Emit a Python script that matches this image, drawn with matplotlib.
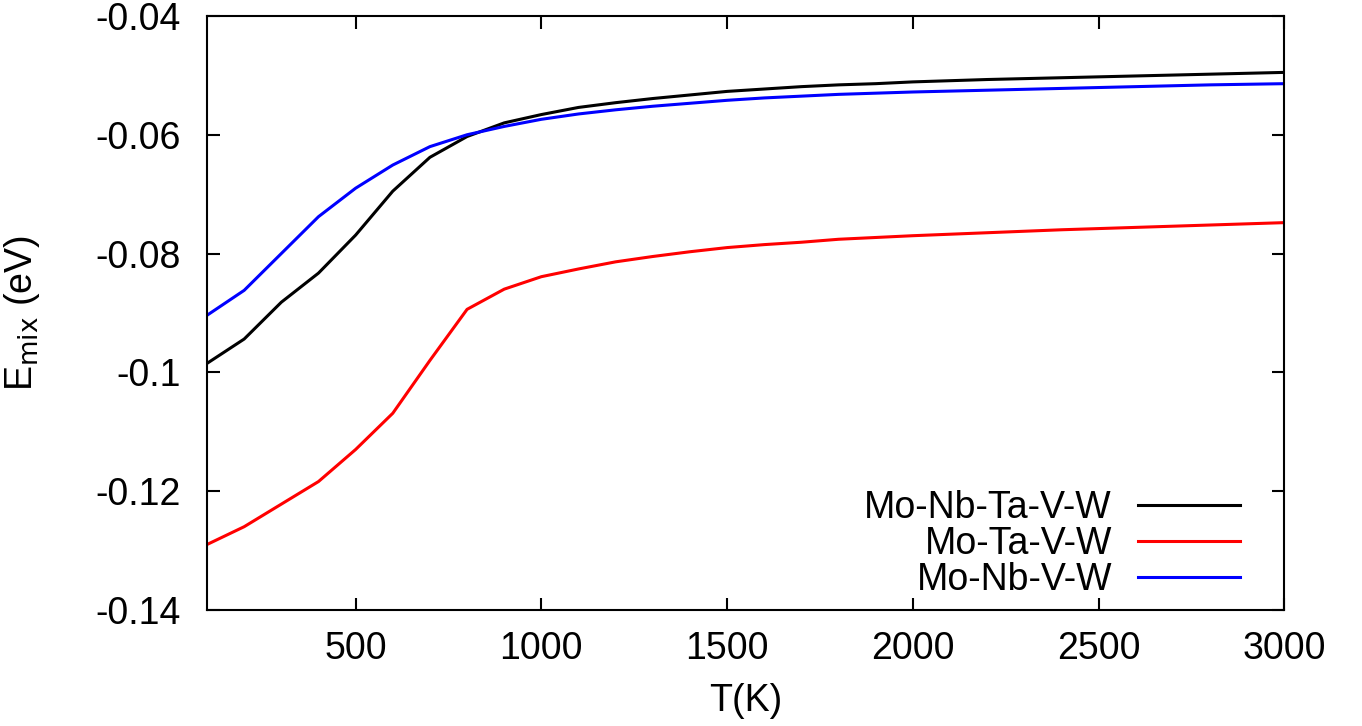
import matplotlib

matplotlib.use("Agg")
import matplotlib.pyplot as plt
import numpy as np

plt.rcParams["font.family"] = ["Liberation Sans", "DejaVu Sans"]

# Mixing energy vs temperature for the three alloys
T = [100, 200, 300, 400, 500, 600, 700, 800, 900, 1000,
     1100, 1200, 1300, 1400, 1500, 1600, 1700, 1800, 1900, 2000,
     2200, 2400, 2600, 2800, 3000]

e_monbtavw = [-0.0985, -0.0944, -0.0882, -0.0833, -0.0769, -0.0695, -0.0638,
              -0.0603, -0.0580, -0.0566, -0.0554, -0.0546, -0.0539, -0.0533,
              -0.0527, -0.0523, -0.0519, -0.0516, -0.0514, -0.0511, -0.0507,
              -0.0504, -0.0501, -0.0498, -0.0495]

e_motavw = [-0.1290, -0.1260, -0.1222, -0.1184, -0.1130, -0.1069, -0.0980,
            -0.0894, -0.0860, -0.0839, -0.0826, -0.0814, -0.0805, -0.0797,
            -0.0790, -0.0785, -0.0781, -0.0776, -0.0773, -0.0770, -0.0765,
            -0.0760, -0.0756, -0.0752, -0.0748]

e_monbvw = [-0.0904, -0.0862, -0.0800, -0.0738, -0.0690, -0.0651, -0.0620,
            -0.0600, -0.0586, -0.0574, -0.0565, -0.0558, -0.0552, -0.0547,
            -0.0542, -0.0538, -0.0535, -0.0532, -0.0530, -0.0528, -0.0525,
            -0.0522, -0.0519, -0.0516, -0.0514]

labels = ["Mo-Nb-Ta-V-W", "Mo-Ta-V-W", "Mo-Nb-V-W"]
colors = ["black", "#ff0000", "#0000ff"]

FS = 27

fig = plt.figure(figsize=(13.62, 7.26), dpi=100)
ax = fig.add_axes([0.152, 0.160, 0.791, 0.818])

for e, lab, c in zip([e_monbtavw, e_motavw, e_monbvw], labels, colors):
    ax.plot(T, e, color=c, lw=2.2, label=lab)

ax.set_xlim(100, 3000)
ax.set_ylim(-0.14, -0.04)
ax.set_xticks([500, 1000, 1500, 2000, 2500, 3000])
ax.set_yticks(np.arange(-0.14, -0.039, 0.02))
ax.set_yticklabels(["-0.14", "-0.12", "-0.1", "-0.08", "-0.06", "-0.04"])

for s in ax.spines.values():
    s.set_linewidth(1.5)
ax.tick_params(direction="in", length=9, width=1.5, labelsize=FS,
               top=True, right=True)
ax.tick_params(axis="x", pad=15)
ax.tick_params(axis="y", pad=19)

ax.set_xlabel("T(K)", fontsize=FS, labelpad=12)
ax.set_ylabel(r"E$_{\mathrm{mix}}$ (eV)", fontsize=FS, labelpad=38)

ax.legend(loc="lower right", frameon=False, markerfirst=False, fontsize=FS,
          handlelength=2.72, handletextpad=0.7, labelspacing=0.0,
          borderpad=0, borderaxespad=0, bbox_to_anchor=(0.959, 0.02))

fig.savefig("out.png", dpi=100)
